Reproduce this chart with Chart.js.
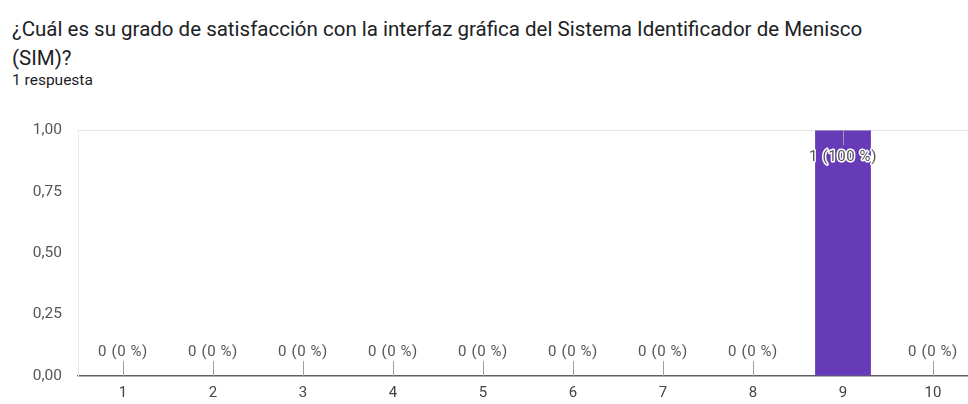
<!DOCTYPE html>
<html>
<head>
<meta charset="utf-8">
<script src="https://cdn.jsdelivr.net/npm/chart.js@4"></script>
<style>
  body { margin: 0; background: #fff; overflow: hidden; font-family: Roboto, Arial, sans-serif; }
  .title { position: absolute; left: 12px; top: 15px; width: 900px; font-size: 20.5px; line-height: 29px; color: #202124; }
  .sub { position: absolute; left: 12px; top: 71px; font-size: 15.5px; color: #202124; }
  .wrap { position: absolute; left: 0; top: 105px; width: 1000px; height: 299px; }
</style>
</head>
<body>
<div class="title">¿Cuál es su grado de satisfacción con la interfaz gráfica del Sistema Identificador de Menisco (SIM)?</div>
<div class="sub">1 respuesta</div>
<div class="wrap"><canvas id="satisfaccion"></canvas></div>
<script>
// Respuestas por nivel de satisfacción
const niveles = ["1", "2", "3", "4", "5", "6", "7", "8", "9", "10"];
const respuestas = [0, 0, 0, 0, 0, 0, 0, 0, 1, 0];
const yTicks = [0, 0.25, 0.5, 0.75, 1];

const total = respuestas.reduce((a, b) => a + b, 0);
const fuente = "Roboto, Arial, sans-serif";

// etiqueta "n (p %)" con su rayita, como en los resúmenes de Forms
const etiquetas = {
  id: "etiquetas",
  afterDatasetsDraw(chart) {
    const { ctx, scales } = chart;
    const x = scales.x, y = scales.y;
    ctx.save();
    ctx.font = "15px " + fuente;
    ctx.letterSpacing = "0.6px";
    ctx.textAlign = "center";
    ctx.textBaseline = "middle";
    respuestas.forEach((v, i) => {
      const px = x.getPixelForValue(i);
      const py = y.getPixelForValue(v);
      const pct = total ? Math.round((v / total) * 100) : 0;
      const txt = v + " (" + pct + " %)";
      ctx.strokeStyle = "#9e9e9e";
      ctx.lineWidth = 1;
      ctx.beginPath();
      if (v >= y.max) {
        ctx.moveTo(px + 0.5, py);
        ctx.lineTo(px + 0.5, py + 15);
        ctx.stroke();
        ctx.lineJoin = "round";
        ctx.strokeStyle = "#fff";
        ctx.lineWidth = 3;
        ctx.strokeText(txt, px, py + 27);
        ctx.fillStyle = "#555";
        ctx.fillText(txt, px, py + 27);
      } else {
        ctx.moveTo(px + 0.5, py);
        ctx.lineTo(px + 0.5, py - 15);
        ctx.stroke();
        ctx.fillStyle = "#555";
        ctx.fillText(txt, px, py - 24);
      }
    });
    ctx.restore();
  }
};

new Chart(document.getElementById("satisfaccion"), {
  type: "bar",
  data: {
    labels: niveles,
    datasets: [
      {
        data: respuestas,
        backgroundColor: "#673ab7",
        barPercentage: 0.62,
        categoryPercentage: 1,
      },
    ],
  },
  options: {
    responsive: true,
    maintainAspectRatio: false,
    animation: false,
    layout: { padding: { top: 16, right: 22, left: 0, bottom: 0 } },
    plugins: { legend: { display: false }, tooltip: { enabled: false } },
    scales: {
      x: {
        grid: { display: false, drawTicks: false },
        border: { color: "#616161", width: 1.5 },
        ticks: { color: "#444", font: { size: 15, family: fuente }, padding: 8 },
        afterFit: (s) => { s.height = 28; },
      },
      y: {
        min: 0,
        max: 1,
        afterBuildTicks: (s) => { s.ticks = yTicks.map((v) => ({ value: v })); },
        grid: {
          drawTicks: false,
          color: (c) => (c.tick && c.tick.value === 1 ? "#e6e6e6" : "transparent"),
        },
        border: { color: "#ececec" },
        ticks: {
          color: "#555",
          padding: 16,
          font: { size: 15.5, family: fuente },
          callback: (v) => v.toFixed(2).replace(".", ","),
        },
        afterFit: (s) => { s.width = 78; },
      },
    },
  },
  plugins: [etiquetas],
});
</script>
</body>
</html>
